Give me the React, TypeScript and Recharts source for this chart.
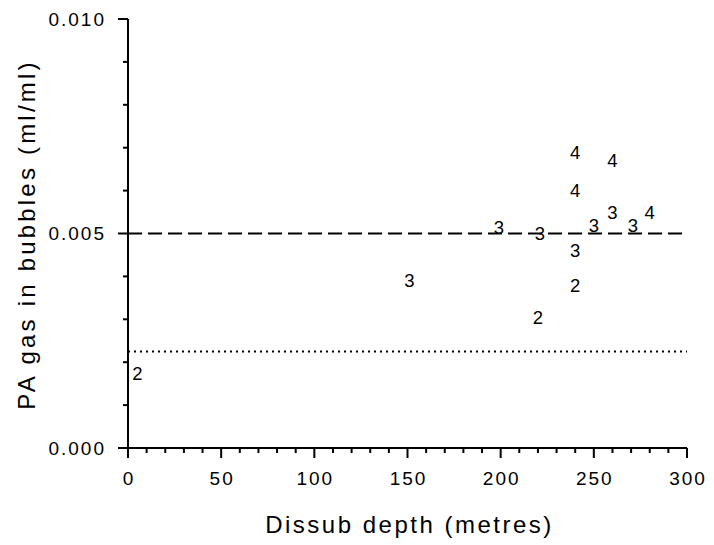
import React from 'react';
import { ScatterChart, Scatter, XAxis, YAxis, ReferenceLine, Label } from 'recharts';

// Data: depth (m), PA gas in bubbles (ml/ml), marker label (number of dives / subjects)
const depths = [5, 151, 220, 199, 221, 240, 240, 240, 240, 260, 260, 250, 271, 280];
const gasValues = [0.00174, 0.0039, 0.00305, 0.00515, 0.005, 0.0069, 0.006, 0.0046, 0.0038, 0.0067, 0.0055, 0.0052, 0.0052, 0.0055];
const markerLabels = ['2', '3', '2', '3', '3', '4', '4', '3', '2', '4', '3', '3', '3', '4'];

const xTicks = [0, 10, 20, 30, 40, 50, 60, 70, 80, 90, 100, 110, 120, 130, 140, 150, 160, 170, 180, 190, 200, 210, 220, 230, 240, 250, 260, 270, 280, 290, 300];
const xMajor = [0, 50, 100, 150, 200, 250, 300];
const yTicks = [0, 0.001, 0.002, 0.003, 0.004, 0.005, 0.006, 0.007, 0.008, 0.009, 0.01];
const yMajor = [0, 0.005, 0.01];

const dashedLevel = 0.005;
const dottedLevel = 0.00225;

const FONT = '"Liberation Sans", Arial, sans-serif';

const data = depths.map((d, i) => ({ x: d, y: gasValues[i], n: markerLabels[i] }));

const isMajor = (list: number[], v: number) => list.some((m) => Math.abs(m - v) < 1e-9);

const XTick = (props: any) => {
  const { x, y, payload } = props;
  const major = isMajor(xMajor, payload.value);
  return (
    <g>
      <line x1={x} x2={x} y1={y} y2={y + (major ? 10 : 5)} stroke="#000" strokeWidth={2} />
      {major && (
        <text x={x + 1} y={y + 37} textAnchor="middle" fontFamily={FONT} fontSize={19} letterSpacing={2} fill="#000">
          {payload.value}
        </text>
      )}
    </g>
  );
};

const YTick = (props: any) => {
  const { x, y, payload } = props;
  const major = isMajor(yMajor, payload.value);
  return (
    <g>
      <line x1={x} x2={x - (major ? 10 : 5)} y1={y} y2={y} stroke="#000" strokeWidth={2} />
      {major && (
        <text x={x - 22} y={y} dy="0.36em" textAnchor="end" fontFamily={FONT} fontSize={19} letterSpacing={2} fill="#000">
          {payload.value.toFixed(3)}
        </text>
      )}
    </g>
  );
};

const PointLabel = (props: any) => {
  const { cx, cy, payload } = props;
  return (
    <text x={cx} y={cy} dy="0.36em" textAnchor="middle" fontFamily={FONT} fontSize={18.5} fill="#000">
      {payload.n}
    </text>
  );
};

const XLabel = (props: any) => {
  const vb = props.viewBox || {};
  const cx = vb.x + vb.width / 2;
  return (
    <text x={cx + 2} y={533} textAnchor="middle" fontFamily={FONT} fontSize={24} letterSpacing={2.5} fill="#000">
      Dissub depth (metres)
    </text>
  );
};

const YLabel = (props: any) => {
  const vb = props.viewBox || {};
  const cy = vb.y + vb.height / 2 + 1;
  const lx = 26;
  return (
    <text
      x={lx}
      y={cy}
      dy="0.36em"
      transform={`rotate(-90, ${lx}, ${cy})`}
      textAnchor="middle"
      fontFamily={FONT}
      fontSize={24}
      letterSpacing={3.2}
      fill="#000"
    >
      PA gas in bubbles (ml/ml)
    </text>
  );
};

export default function App() {
  return (
    <div style={{ position: 'absolute', left: 0, top: 0, width: 714, height: 545, background: '#fff' }}>
      <ScatterChart width={714} height={545} margin={{ top: 19, right: 27, bottom: 37, left: 68 }}>
        <XAxis
          type="number"
          dataKey="x"
          domain={[0, 300]}
          ticks={xTicks}
          interval={0}
          height={60}
          tickSize={0}
          tickMargin={0}
          tickLine={false}
          axisLine={{ stroke: '#000', strokeWidth: 2 }}
          tick={<XTick />}
          allowDataOverflow
        >
          <Label content={<XLabel />} />
        </XAxis>
        <YAxis
          type="number"
          dataKey="y"
          domain={[0, 0.01]}
          ticks={yTicks}
          interval={0}
          width={60}
          tickSize={0}
          tickMargin={0}
          tickLine={false}
          axisLine={{ stroke: '#000', strokeWidth: 2 }}
          tick={<YTick />}
          allowDataOverflow
        >
          <Label content={<YLabel />} />
        </YAxis>
        <ReferenceLine y={dashedLevel} stroke="#000" strokeWidth={2} strokeDasharray="14 6" />
        <ReferenceLine y={dottedLevel} stroke="#000" strokeWidth={2} strokeDasharray="2 4" />
        <Scatter data={data} isAnimationActive={false} shape={<PointLabel />} />
      </ScatterChart>
    </div>
  );
}
